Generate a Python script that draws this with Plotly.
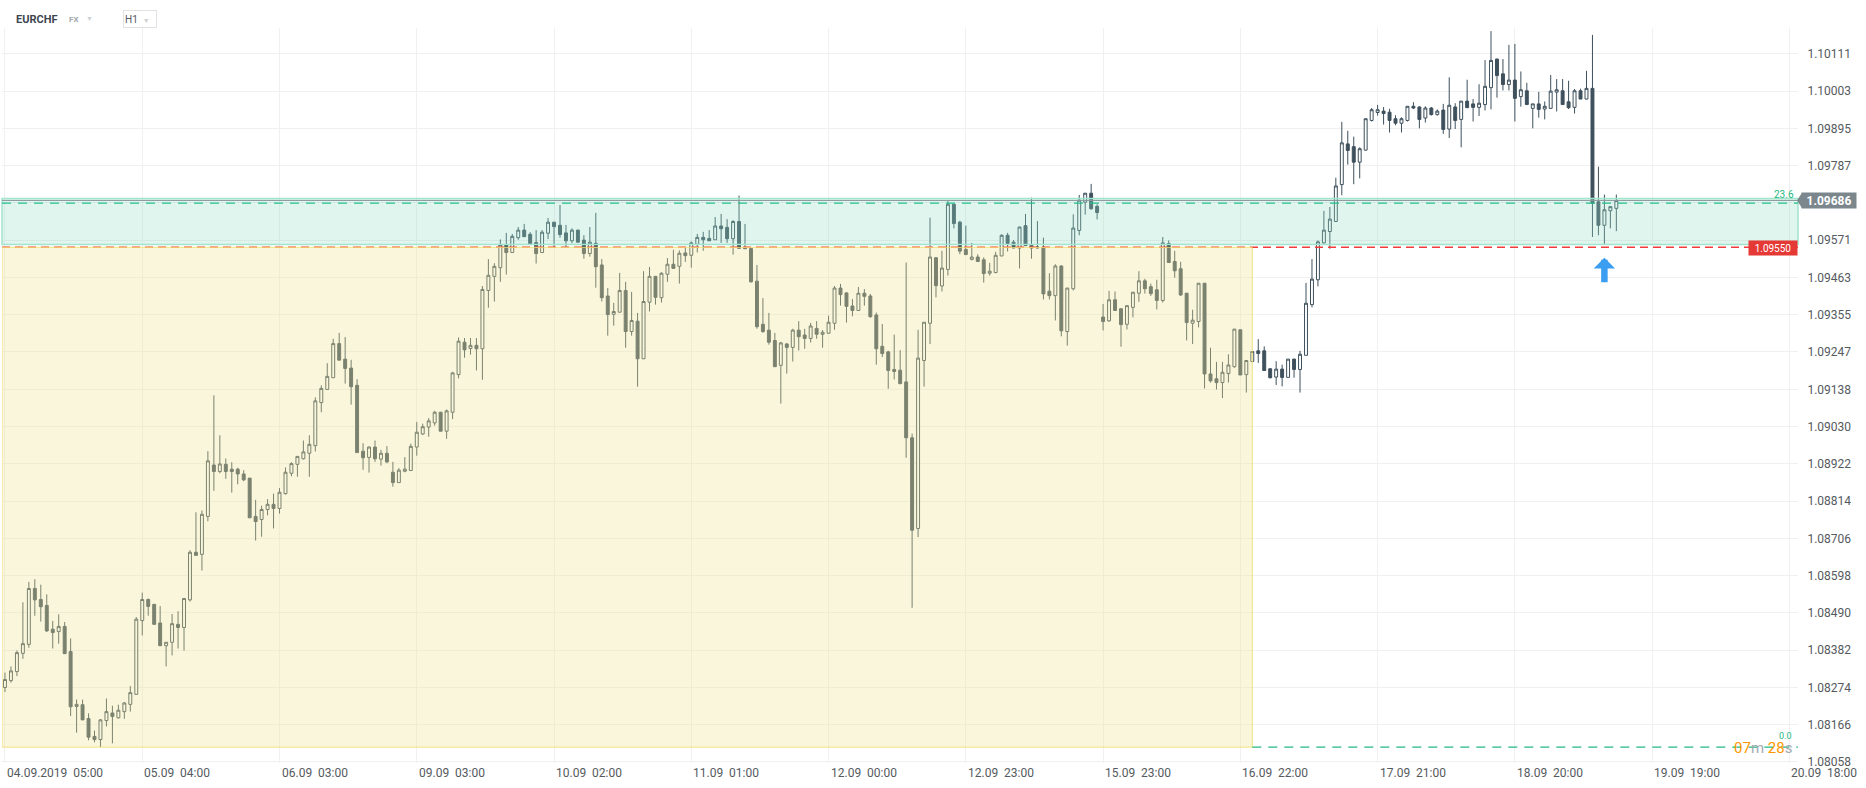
import plotly.graph_objects as go

# ---------------- data (EURCHF, H1) ----------------
open_ = [
    1.08274, 1.08294, 1.08320, 1.08373, 1.08399, 1.08561, 1.08529, 1.08512, 1.08443, 1.08436,
    1.08451, 1.08378, 1.08219, 1.08224, 1.08184, 1.08132, 1.08123, 1.08178, 1.08200, 1.08186,
    1.08204, 1.08225, 1.08254, 1.08468, 1.08529, 1.08515, 1.08461, 1.08395, 1.08405, 1.08457,
    1.08448, 1.08528, 1.08666, 1.08660, 1.08770, 1.08919, 1.08900, 1.08921, 1.08907, 1.08907,
    1.08893, 1.08881, 1.08770, 1.08761, 1.08790, 1.08805, 1.08793, 1.08836, 1.08895, 1.08921,
    1.08937, 1.08953, 1.08975, 1.09100, 1.09138, 1.09172, 1.09271, 1.09226, 1.09200, 1.09150,
    1.08959, 1.08941, 1.08971, 1.08936, 1.08953, 1.08898, 1.08868, 1.08901, 1.08903, 1.08971,
    1.09009, 1.09029, 1.09041, 1.09072, 1.09017, 1.09072, 1.09181, 1.09275, 1.09257, 1.09266,
    1.09256, 1.09425, 1.09466, 1.09491, 1.09558, 1.09535, 1.09578, 1.09600, 1.09588, 1.09564,
    1.09535, 1.09591, 1.09623, 1.09614, 1.09592, 1.09569, 1.09600, 1.09571, 1.09532, 1.09562,
    1.09499, 1.09409, 1.09356, 1.09362, 1.09425, 1.09306, 1.09336, 1.09227, 1.09391, 1.09466,
    1.09404, 1.09472, 1.09501, 1.09495, 1.09534, 1.09527, 1.09559, 1.09579, 1.09576, 1.09572,
    1.09612, 1.09608, 1.09575, 1.09625, 1.09550, 1.09547, 1.09452, 1.09327, 1.09310, 1.09280,
    1.09208, 1.09270, 1.09260, 1.09310, 1.09296, 1.09286, 1.09315, 1.09298, 1.09301, 1.09330,
    1.09432, 1.09418, 1.09380, 1.09367, 1.09417, 1.09409, 1.09354, 1.09263, 1.09247, 1.09196,
    1.09194, 1.09160, 1.08998, 1.08735, 1.09222, 1.09330, 1.09520, 1.09438, 1.09486, 1.09675,
    1.09623, 1.09544, 1.09515, 1.09522, 1.09514, 1.09475, 1.09477, 1.09525, 1.09585, 1.09565,
    1.09548, 1.09613, 1.09556, 1.09548, 1.09551, 1.09423, 1.09410, 1.09496, 1.09306, 1.09430,
    1.09599, 1.09681, 1.09707, 1.09669, 1.09348, 1.09337, 1.09398, 1.09372, 1.09327, 1.09376,
    1.09417, 1.09453, 1.09436, 1.09427, 1.09396, 1.09561, 1.09509, 1.09488, 1.09417, 1.09330,
    1.09335, 1.09446, 1.09183, 1.09169, 1.09158, 1.09184, 1.09204, 1.09311, 1.09181, 1.09219,
    1.09250, 1.09250, 1.09198, 1.09174, 1.09197, 1.09173, 1.09226, 1.09196, 1.09237, 1.09384,
    1.09456, 1.09563, 1.09596, 1.09625, 1.09732, 1.09850, 1.09842, 1.09797, 1.09832, 1.09918,
    1.09941, 1.09945, 1.09942, 1.09923, 1.09910, 1.09918, 1.09959, 1.09957, 1.09925, 1.09954,
    1.09935, 1.09948, 1.09893, 1.09957, 1.09921, 1.09974, 1.09966, 1.09956, 1.09964, 1.10013,
    1.10096, 1.10053, 1.10022, 1.10035, 1.09987, 1.10004, 1.09953, 1.09966, 1.09951, 1.09953,
    1.10000, 1.10004, 1.09972, 1.09956, 1.10004, 1.09980, 1.10011, 1.09682, 1.09614, 1.09656,
    1.09663,
]
high = [
    1.08317, 1.08335, 1.08381, 1.08521, 1.08580, 1.08588, 1.08572, 1.08544, 1.08467, 1.08486,
    1.08464, 1.08416, 1.08239, 1.08239, 1.08199, 1.08149, 1.08182, 1.08242, 1.08221, 1.08224,
    1.08232, 1.08278, 1.08478, 1.08549, 1.08532, 1.08515, 1.08510, 1.08405, 1.08487, 1.08495,
    1.08532, 1.08672, 1.08782, 1.08787, 1.08959, 1.09121, 1.09005, 1.08938, 1.08927, 1.08911,
    1.08904, 1.08881, 1.08818, 1.08801, 1.08820, 1.08836, 1.08852, 1.08912, 1.08927, 1.08944,
    1.08990, 1.09005, 1.09115, 1.09150, 1.09214, 1.09285, 1.09302, 1.09290, 1.09224, 1.09168,
    1.08982, 1.08973, 1.08990, 1.08963, 1.08974, 1.08928, 1.08910, 1.08942, 1.08981, 1.09044,
    1.09039, 1.09055, 1.09076, 1.09073, 1.09080, 1.09189, 1.09289, 1.09287, 1.09287, 1.09287,
    1.09438, 1.09516, 1.09504, 1.09573, 1.09592, 1.09589, 1.09609, 1.09618, 1.09594, 1.09600,
    1.09600, 1.09635, 1.09624, 1.09673, 1.09615, 1.09605, 1.09601, 1.09585, 1.09609, 1.09650,
    1.09516, 1.09432, 1.09389, 1.09476, 1.09450, 1.09421, 1.09360, 1.09481, 1.09493, 1.09467,
    1.09478, 1.09519, 1.09543, 1.09541, 1.09551, 1.09567, 1.09589, 1.09595, 1.09600, 1.09638,
    1.09647, 1.09632, 1.09629, 1.09700, 1.09618, 1.09548, 1.09499, 1.09403, 1.09360, 1.09302,
    1.09276, 1.09273, 1.09314, 1.09336, 1.09314, 1.09331, 1.09336, 1.09310, 1.09352, 1.09438,
    1.09444, 1.09419, 1.09400, 1.09435, 1.09429, 1.09415, 1.09361, 1.09328, 1.09250, 1.09297,
    1.09252, 1.09506, 1.09010, 1.09311, 1.09333, 1.09636, 1.09521, 1.09540, 1.09684, 1.09676,
    1.09627, 1.09613, 1.09563, 1.09530, 1.09521, 1.09505, 1.09537, 1.09588, 1.09592, 1.09571,
    1.09609, 1.09647, 1.09694, 1.09626, 1.09578, 1.09475, 1.09501, 1.09498, 1.09432, 1.09646,
    1.09702, 1.09707, 1.09734, 1.09675, 1.09386, 1.09424, 1.09422, 1.09373, 1.09381, 1.09420,
    1.09481, 1.09459, 1.09445, 1.09456, 1.09580, 1.09570, 1.09540, 1.09508, 1.09418, 1.09369,
    1.09446, 1.09447, 1.09259, 1.09218, 1.09218, 1.09240, 1.09313, 1.09312, 1.09222, 1.09248,
    1.09284, 1.09263, 1.09199, 1.09220, 1.09210, 1.09226, 1.09227, 1.09250, 1.09447, 1.09516,
    1.09570, 1.09656, 1.09667, 1.09752, 1.09914, 1.09888, 1.09871, 1.09840, 1.09923, 1.09954,
    1.09963, 1.09957, 1.09952, 1.09933, 1.09927, 1.09959, 1.09971, 1.09959, 1.09959, 1.09957,
    1.09950, 1.09966, 1.10043, 1.09968, 1.09974, 1.10036, 1.09980, 1.10023, 1.10093, 1.10177,
    1.10097, 1.10096, 1.10137, 1.10140, 1.10060, 1.10027, 1.09966, 1.10001, 1.09973, 1.10050,
    1.10038, 1.10038, 1.10033, 1.10009, 1.10010, 1.10062, 1.10166, 1.09784, 1.09703, 1.09670,
    1.09703,
]
low = [
    1.08261, 1.08288, 1.08307, 1.08357, 1.08389, 1.08482, 1.08465, 1.08435, 1.08387, 1.08401,
    1.08372, 1.08191, 1.08143, 1.08180, 1.08121, 1.08115, 1.08101, 1.08161, 1.08112, 1.08184,
    1.08183, 1.08204, 1.08254, 1.08425, 1.08482, 1.08457, 1.08395, 1.08335, 1.08367, 1.08387,
    1.08381, 1.08523, 1.08657, 1.08613, 1.08756, 1.08844, 1.08895, 1.08879, 1.08839, 1.08863,
    1.08872, 1.08766, 1.08700, 1.08711, 1.08773, 1.08735, 1.08778, 1.08833, 1.08886, 1.08885,
    1.08935, 1.08885, 1.08958, 1.09072, 1.09138, 1.09172, 1.09223, 1.09155, 1.09094, 1.08955,
    1.08905, 1.08897, 1.08928, 1.08917, 1.08924, 1.08856, 1.08868, 1.08898, 1.08903, 1.08946,
    1.09006, 1.09001, 1.09033, 1.09017, 1.08995, 1.09052, 1.09170, 1.09230, 1.09239, 1.09193,
    1.09166, 1.09375, 1.09393, 1.09450, 1.09471, 1.09535, 1.09572, 1.09581, 1.09561, 1.09503,
    1.09535, 1.09574, 1.09550, 1.09578, 1.09550, 1.09562, 1.09565, 1.09517, 1.09523, 1.09433,
    1.09393, 1.09294, 1.09323, 1.09362, 1.09259, 1.09294, 1.09146, 1.09227, 1.09364, 1.09384,
    1.09390, 1.09450, 1.09489, 1.09445, 1.09508, 1.09491, 1.09535, 1.09540, 1.09569, 1.09572,
    1.09563, 1.09563, 1.09529, 1.09547, 1.09546, 1.09448, 1.09314, 1.09302, 1.09268, 1.09204,
    1.09097, 1.09184, 1.09219, 1.09251, 1.09256, 1.09274, 1.09285, 1.09259, 1.09301, 1.09311,
    1.09381, 1.09332, 1.09350, 1.09367, 1.09381, 1.09346, 1.09210, 1.09232, 1.09140, 1.09167,
    1.09153, 1.08940, 1.08505, 1.08710, 1.09146, 1.09270, 1.09405, 1.09422, 1.09468, 1.09605,
    1.09530, 1.09529, 1.09512, 1.09509, 1.09448, 1.09468, 1.09475, 1.09525, 1.09538, 1.09548,
    1.09489, 1.09555, 1.09517, 1.09547, 1.09399, 1.09399, 1.09338, 1.09292, 1.09265, 1.09425,
    1.09585, 1.09645, 1.09659, 1.09631, 1.09309, 1.09334, 1.09367, 1.09262, 1.09312, 1.09347,
    1.09392, 1.09416, 1.09409, 1.09370, 1.09390, 1.09506, 1.09462, 1.09409, 1.09280, 1.09270,
    1.09318, 1.09141, 1.09158, 1.09138, 1.09113, 1.09158, 1.09201, 1.09180, 1.09129, 1.09219,
    1.09215, 1.09193, 1.09170, 1.09151, 1.09147, 1.09173, 1.09172, 1.09129, 1.09237, 1.09376,
    1.09437, 1.09561, 1.09546, 1.09625, 1.09701, 1.09790, 1.09733, 1.09750, 1.09831, 1.09915,
    1.09932, 1.09906, 1.09883, 1.09904, 1.09883, 1.09915, 1.09951, 1.09895, 1.09912, 1.09932,
    1.09932, 1.09879, 1.09867, 1.09893, 1.09840, 1.09955, 1.09915, 1.09931, 1.09947, 1.09950,
    1.09984, 1.10005, 1.10005, 1.09915, 1.09958, 1.09964, 1.09895, 1.09926, 1.09921, 1.09952,
    1.09944, 1.09964, 1.09951, 1.09938, 1.09980, 1.09979, 1.09580, 1.09585, 1.09559, 1.09605,
    1.09597,
]
close = [
    1.08297, 1.08322, 1.08375, 1.08401, 1.08561, 1.08528, 1.08508, 1.08438, 1.08433, 1.08451,
    1.08372, 1.08218, 1.08225, 1.08180, 1.08130, 1.08123, 1.08180, 1.08204, 1.08190, 1.08208,
    1.08229, 1.08259, 1.08472, 1.08529, 1.08509, 1.08457, 1.08395, 1.08405, 1.08459, 1.08448,
    1.08532, 1.08666, 1.08657, 1.08776, 1.08931, 1.08900, 1.08922, 1.08900, 1.08900, 1.08893,
    1.08876, 1.08766, 1.08755, 1.08790, 1.08805, 1.08793, 1.08840, 1.08898, 1.08923, 1.08944,
    1.08957, 1.08979, 1.09105, 1.09141, 1.09176, 1.09271, 1.09223, 1.09199, 1.09146, 1.08955,
    1.08940, 1.08971, 1.08937, 1.08953, 1.08928, 1.08868, 1.08904, 1.08907, 1.08973, 1.09014,
    1.09030, 1.09047, 1.09072, 1.09017, 1.09076, 1.09186, 1.09278, 1.09253, 1.09266, 1.09256,
    1.09428, 1.09469, 1.09495, 1.09558, 1.09535, 1.09582, 1.09600, 1.09581, 1.09561, 1.09532,
    1.09594, 1.09623, 1.09610, 1.09587, 1.09569, 1.09600, 1.09565, 1.09532, 1.09565, 1.09494,
    1.09404, 1.09355, 1.09364, 1.09425, 1.09306, 1.09338, 1.09227, 1.09393, 1.09466, 1.09405,
    1.09475, 1.09501, 1.09489, 1.09533, 1.09526, 1.09563, 1.09579, 1.09572, 1.09569, 1.09612,
    1.09604, 1.09575, 1.09625, 1.09547, 1.09546, 1.09450, 1.09320, 1.09306, 1.09275, 1.09204,
    1.09273, 1.09260, 1.09310, 1.09291, 1.09286, 1.09322, 1.09298, 1.09304, 1.09333, 1.09432,
    1.09413, 1.09379, 1.09367, 1.09417, 1.09408, 1.09349, 1.09256, 1.09242, 1.09193, 1.09190,
    1.09155, 1.08998, 1.08730, 1.09229, 1.09333, 1.09522, 1.09439, 1.09490, 1.09675, 1.09619,
    1.09539, 1.09529, 1.09522, 1.09509, 1.09474, 1.09481, 1.09527, 1.09585, 1.09561, 1.09548,
    1.09609, 1.09555, 1.09548, 1.09551, 1.09415, 1.09410, 1.09496, 1.09308, 1.09432, 1.09606,
    1.09687, 1.09707, 1.09662, 1.09651, 1.09335, 1.09398, 1.09367, 1.09326, 1.09381, 1.09420,
    1.09453, 1.09430, 1.09416, 1.09396, 1.09563, 1.09506, 1.09482, 1.09412, 1.09332, 1.09339,
    1.09446, 1.09183, 1.09163, 1.09158, 1.09188, 1.09209, 1.09313, 1.09180, 1.09222, 1.09248,
    1.09242, 1.09193, 1.09172, 1.09197, 1.09173, 1.09226, 1.09196, 1.09240, 1.09388, 1.09458,
    1.09566, 1.09600, 1.09632, 1.09728, 1.09853, 1.09831, 1.09797, 1.09836, 1.09923, 1.09949,
    1.09949, 1.09938, 1.09918, 1.09910, 1.09923, 1.09959, 1.09954, 1.09921, 1.09954, 1.09935,
    1.09945, 1.09892, 1.09962, 1.09918, 1.09974, 1.09955, 1.09956, 1.09968, 1.10017, 1.10092,
    1.10048, 1.10022, 1.10035, 1.09982, 1.10007, 1.09964, 1.09966, 1.09950, 1.09959, 1.10003,
    1.10007, 1.09964, 1.09955, 1.10004, 1.09980, 1.10011, 1.09678, 1.09614, 1.09659, 1.09668,
    1.09686,
]
bars = list(range(len(open_)))

x_tick_bars = [0, 23, 46, 69, 92, 115, 138, 161, 184, 207, 230, 253, 276, 299]
x_tick_labels = ["04.09.2019  05:00", "05.09  04:00", "06.09  03:00", "09.09  03:00",
                 "10.09  02:00", "11.09  01:00", "12.09  00:00", "12.09  23:00",
                 "15.09  23:00", "16.09  22:00", "17.09  21:00", "18.09  20:00",
                 "19.09  19:00", "20.09  18:00"]
y_ticks = [1.10111, 1.10003, 1.09895, 1.09787, 1.09679, 1.09571, 1.09463, 1.09355,
           1.09247, 1.09138, 1.09030, 1.08922, 1.08814, 1.08706, 1.08598, 1.08490,
           1.08382, 1.08274, 1.08166, 1.08058]
y_tick_labels = ["1.10111", "1.10003", "1.09895", "1.09787", "", "1.09571", "1.09463",
                 "1.09355", "1.09247", "1.09138", "1.09030", "1.08922", "1.08814",
                 "1.08706", "1.08598", "1.08490", "1.08382", "1.08274", "1.08166", "1.08058"]

last_price = 1.09686
support_level = 1.09550
fib_236 = 1.09678
fib_0 = 1.08101
zone_top = 1.09692
zone_bottom = 1.09558
range_end_bar = 209
signal_bar = 268
signal_price = 1.09520

X_RANGE = [-0.5, 300.44]
Y_RANGE = [1.08055, 1.10186]

# ---------------- styling ----------------
CANDLE = "#3e505c"
FONT = "Roboto"
W, H = 1866, 788
M = dict(l=2, r=68, t=28, b=25)
PLOT_W = W - M["l"] - M["r"]
PX = 1.0 / PLOT_W

fig = go.Figure()
fig.add_trace(go.Candlestick(
    x=bars, open=open_, high=high, low=low, close=close,
    increasing=dict(line=dict(color=CANDLE, width=1), fillcolor="#ffffff"),
    decreasing=dict(line=dict(color=CANDLE, width=1), fillcolor=CANDLE),
    whiskerwidth=0, hoverinfo="skip", showlegend=False,
))

shapes = [
    # support line (red dashed)
    dict(type="line", xref="paper", x0=0, x1=1, yref="y", y0=support_level, y1=support_level,
         line=dict(color="#f23b3b", width=1.5, dash="8px,5px"), layer="above"),
    # consolidation range (yellow)
    dict(type="rect", xref="x", x0=X_RANGE[0], x1=range_end_bar, yref="y", y0=fib_0, y1=support_level,
         fillcolor="rgba(240,228,150,0.34)", line=dict(color="rgba(242,222,110,0.85)", width=1),
         layer="above"),
    # resistance/support zone (green)
    dict(type="rect", xref="paper", x0=0, x1=1, yref="y", y0=zone_bottom, y1=zone_top,
         fillcolor="rgba(150,222,196,0.30)", line=dict(color="#a3e4cd", width=1.5), layer="above"),
    # last price line
    dict(type="line", xref="paper", x0=0, x1=1, yref="y", y0=last_price, y1=last_price,
         line=dict(color="#8c979d", width=1), layer="above"),
    # fib 23.6 dashed
    dict(type="line", xref="paper", x0=0, x1=1, yref="y", y0=fib_236, y1=fib_236,
         line=dict(color="#22c08a", width=1.3, dash="9px,7px"), layer="above"),
    # fib 0.0 dashed
    dict(type="line", xref="x", x0=range_end_bar, x1=X_RANGE[1], yref="y", y0=fib_0, y1=fib_0,
         line=dict(color="#22b883", width=1.3, dash="9px,7px"), layer="above"),
    # price tag notch
    dict(type="path", xref="paper", yref="y",
         path=f"M {1 - 1*PX} {last_price} L {1 + 4*PX} {last_price + 0.00022} "
              f"L {1 + 4*PX} {last_price - 0.00022} Z",
         fillcolor="#7b878d", line=dict(width=0), layer="above"),
]

annotations = []
# x-axis labels (left-aligned at grid lines)
for b, t in zip(x_tick_bars, x_tick_labels):
    annotations.append(dict(
        x=b, xref="x", y=0, yref="paper", xanchor="left", yanchor="top", yshift=-1,
        text=t.replace("  ", " \u00a0"), showarrow=False,
        font=dict(family=FONT, size=12, color="#555a5e")))

# price tag
annotations.append(dict(
    x=1, xref="paper", y=last_price, yref="y", xanchor="left", yanchor="middle", xshift=3,
    text="<b>1.09686</b>", showarrow=False, bgcolor="#7b878d", width=50, height=11, borderpad=2,
    font=dict(family=FONT, size=12, color="#ffffff")))
# support label
annotations.append(dict(
    x=1, xref="paper", y=support_level, yref="y", xanchor="right", yanchor="middle", yshift=-1,
    text="1.09550", showarrow=False, bgcolor="#e53935", width=44, height=10, borderpad=2,
    font=dict(family=FONT, size=10, color="#ffffff")))
# fib labels
annotations.append(dict(
    x=1, xref="paper", y=fib_236, yref="y", xanchor="right", yanchor="bottom", xshift=-2, yshift=1,
    text="23.6", showarrow=False, font=dict(family=FONT, size=10, color="#22b883")))
annotations.append(dict(
    x=1, xref="paper", y=fib_0, yref="y", xanchor="right", yanchor="bottom", xshift=-4, yshift=4,
    text="0.0", showarrow=False, font=dict(family=FONT, size=9, color="#22b883")))
# countdown
annotations.append(dict(
    x=1, xref="paper", y=fib_0, yref="y", xanchor="right", yanchor="middle", xshift=-4, yshift=-1,
    text='<span style="color:#ff9800">07</span><span style="color:#a3abb0">m</span> '
         '<span style="color:#ff9800">28</span><span style="color:#a3abb0">s</span>',
    showarrow=False, font=dict(family=FONT, size=15)))
# signal arrow
annotations.append(dict(
    x=signal_bar, xref="x", y=signal_price, yref="y", ax=0, ay=26, text="",
    showarrow=True, arrowhead=1, arrowsize=0.55, arrowwidth=6.5, arrowcolor="#3b9ef0", standoff=0))
# header
annotations.append(dict(
    x=0, xref="paper", y=1, yref="paper", xanchor="left", yanchor="middle", xshift=12, yshift=9,
    text="<b>EURCHF</b>", showarrow=False, font=dict(family=FONT, size=11, color="#3c4650")))
annotations.append(dict(
    x=0, xref="paper", y=1, yref="paper", xanchor="left", yanchor="middle", xshift=65, yshift=9,
    text="<b>FX</b>", showarrow=False, font=dict(family=FONT, size=8, color="#a3a8ad")))
annotations.append(dict(
    x=0, xref="paper", y=1, yref="paper", xanchor="left", yanchor="middle", xshift=82, yshift=9,
    text="\u25bc", showarrow=False, font=dict(family=FONT, size=7, color="#cdd1d4")))
annotations.append(dict(
    x=0, xref="paper", y=1, yref="paper", xanchor="left", yanchor="middle", xshift=121, yshift=9,
    text='H1\u00a0\u00a0<span style="color:#cdd1d4;font-size:7px">\u25bc</span>', showarrow=False,
    align="left", width=30, height=14, borderpad=1, bordercolor="#e0e2e4", borderwidth=1,
    bgcolor="#ffffff", font=dict(family=FONT, size=10, color="#555a5e")))

fig.update_layout(
    width=W, height=H, margin=M,
    paper_bgcolor="#ffffff", plot_bgcolor="#ffffff",
    showlegend=False, font=dict(family=FONT),
    shapes=shapes, annotations=annotations,
    xaxis=dict(range=X_RANGE, tickvals=x_tick_bars, showticklabels=False, showgrid=True,
               gridcolor="#f0f0f0", gridwidth=1, zeroline=False, showline=False,
               rangeslider=dict(visible=False), fixedrange=True),
    yaxis=dict(range=Y_RANGE, side="right", tickvals=y_ticks, ticktext=y_tick_labels,
               showgrid=True, gridcolor="#f0f0f0", gridwidth=1, zeroline=False, showline=False,
               ticks="outside", ticklen=6, tickcolor="rgba(0,0,0,0)",
               tickfont=dict(family=FONT, size=12, color="#555a5e"), fixedrange=True),
)

fig.write_html(
    "out.html",
    config={"displayModeBar": False, "staticPlot": True},
    post_script="document.body.style.margin='0px';document.body.style.padding='0px';"
                "document.body.style.overflow='hidden';",
)
